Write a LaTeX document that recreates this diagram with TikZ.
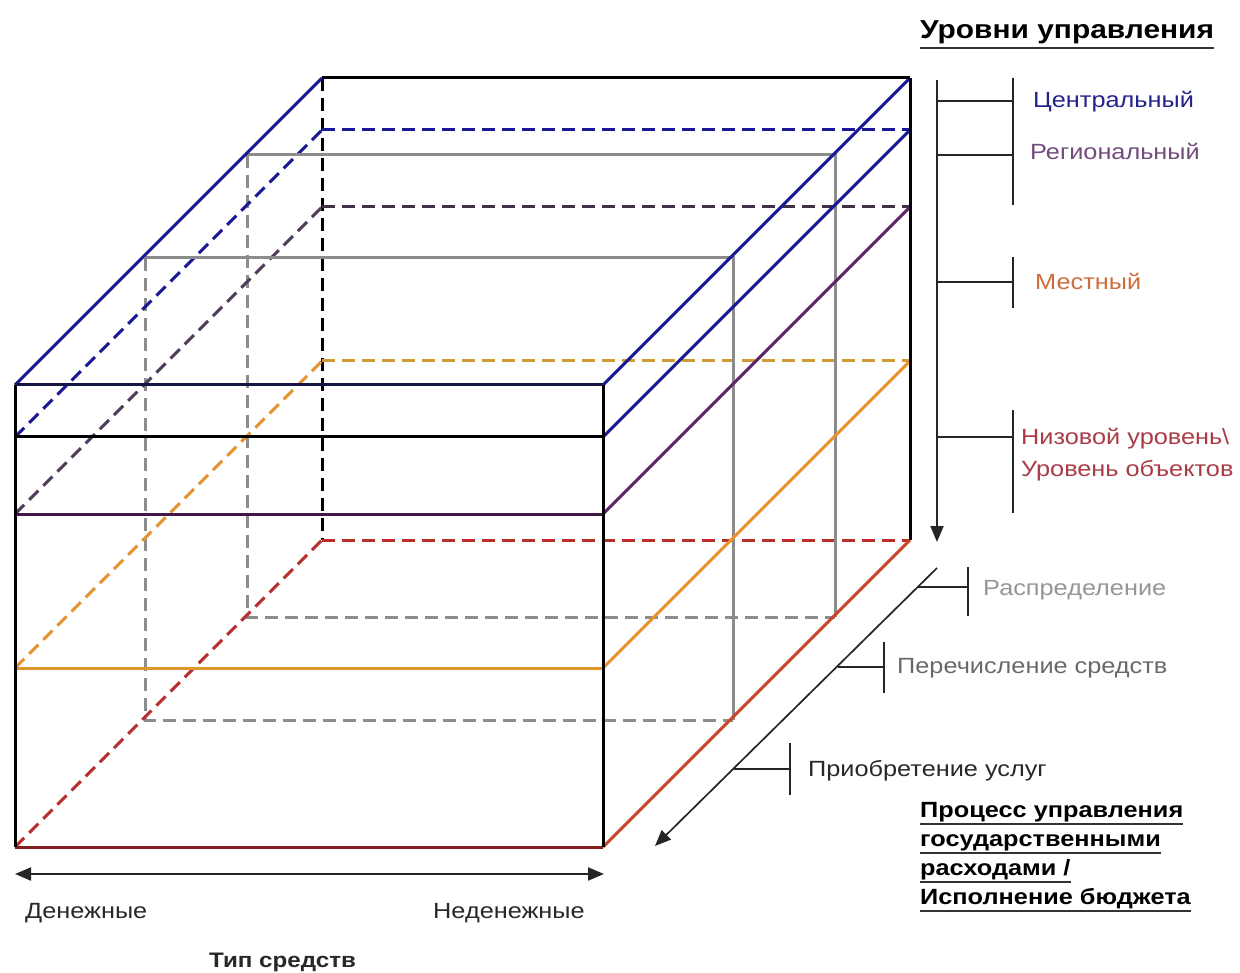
\documentclass[tikz,border=0pt]{standalone}
\usepackage{fontspec}
\setmainfont{Liberation Sans}[FakeStretch=1.15]
\usetikzlibrary{arrows.meta}
\definecolor{cnavy}{RGB}{20,20,70}
\definecolor{cblue}{RGB}{25,25,150}
\definecolor{cpurple}{RGB}{95,35,105}
\definecolor{cpurpled}{RGB}{80,60,90}
\definecolor{corange}{RGB}{235,145,45}
\definecolor{colive}{RGB}{190,160,60}
\definecolor{cred}{RGB}{185,45,45}
\definecolor{credd}{RGB}{135,30,30}
\definecolor{credo}{RGB}{200,70,40}
\definecolor{cgray}{RGB}{140,140,140}
\definecolor{tblue}{RGB}{35,35,140}
\definecolor{tpurple}{RGB}{115,75,125}
\definecolor{torange}{RGB}{205,110,60}
\definecolor{tred}{RGB}{170,60,70}
\definecolor{tgray}{RGB}{150,150,150}
\definecolor{tgrayd}{RGB}{105,105,105}
\definecolor{tdark}{RGB}{40,40,40}
\begin{document}
\begin{tikzpicture}[x=1pt,y=-1pt,
  ln/.style={line width=3pt},
  dsh/.style={line width=3pt,dash pattern=on 13pt off 7pt},
  gln/.style={line width=3pt,cgray},
  gdsh/.style={line width=3pt,cgray,dash pattern=on 13pt off 7pt},
  ann/.style={line width=2pt,black!85},
  lbl/.style={inner sep=0pt,anchor=base west,font=\fontsize{22}{26}\selectfont},
  blbl/.style={inner sep=0pt,anchor=base west,font=\fontsize{22}{26}\selectfont\bfseries},
  uline/.style={line width=2.2pt,black!80}]
\useasboundingbox (0,0) rectangle (1240,973);
\fill[white] (0,0) rectangle (1240,973);

% layer corners
\foreach \n/\y in {a/385,b/437,c/514,d/668,e/847}{
  \coordinate (fL\n) at (15,\y);
  \coordinate (fR\n) at (603,\y);
  \coordinate (bL\n) at (322,\y-307);
  \coordinate (bR\n) at (910,\y-307);
}
% gray slices
\coordinate (sATL) at (145,258); \coordinate (sATR) at (733,258);
\coordinate (sABR) at (733,720); \coordinate (sABL) at (145,720);
\coordinate (sBTL) at (247,155); \coordinate (sBTR) at (835,155);
\coordinate (sBBR) at (835,617); \coordinate (sBBL) at (247,617);

% hidden (dashed) lines
\draw[gdsh] (sATL) -- (sABL) -- (sABR);
\draw[gdsh] (sBTL) -- (sBBL) -- (sBBR);
\draw[dsh,black] (bLa) -- (bLe);
\draw[dsh,cblue] (bLb) -- (bRb);
\draw[dsh,cblue] (fLb) -- (bLb);
\draw[dsh,cpurpled!80!black] (bLc) -- (bRc);
\draw[dsh,cpurpled] (fLc) -- (bLc);
\draw[dsh,colive!60!corange] (bLd) -- (bRd);
\draw[dsh,corange!85!colive] (fLd) -- (bLd);
\draw[dsh,cred] (bLe) -- (bRe);
\draw[dsh,cred] (fLe) -- (bLe);

% gray solid
\draw[gln] (sATL) -- (sATR) -- (sABR);
\draw[gln] (sBTL) -- (sBTR) -- (sBBR);

% solid coloured lines
\draw[ln,cblue] (fLa) -- (bLa);
\draw[ln,cblue] (fRa) -- (bRa);
\draw[ln,black] (bLa) -- (bRa);
\draw[ln,cblue] (fRb) -- (bRb);
\draw[ln,cpurple] (fRc) -- (bRc);
\draw[ln,corange] (fRd) -- (bRd);
\draw[ln,credo] (fRe) -- (bRe);
\draw[ln,cnavy] (fLa) -- (fRa);
\draw[ln,black] (fLb) -- (fRb);
\draw[ln,cpurple!70!black] (fLc) -- (fRc);
\draw[ln,draw=corange!70!colive] (fLd) -- (fRd);
\draw[ln,credd] (fLe) -- (fRe);
\draw[ln,black] (fLa) -- (fLe);
\draw[ln,black] (fRa) -- (fRe);
\draw[ln,black] (bRa) -- (bRe);

% levels axis
\coordinate (vtop) at (937,80); \coordinate (vbot) at (937,542);
\draw[ann,-{Triangle[length=16pt,width=13pt]}] (vtop) -- (vbot);
\coordinate (t1a) at (937,101); \coordinate (t1b) at (1013,101);
\coordinate (t2a) at (937,155); \coordinate (t2b) at (1013,155);
\coordinate (b1a) at (1013,78); \coordinate (b1b) at (1013,205);
\coordinate (t3a) at (937,282); \coordinate (t3b) at (1013,282);
\coordinate (b2a) at (1013,257); \coordinate (b2b) at (1013,308);
\coordinate (t4a) at (937,437); \coordinate (t4b) at (1013,437);
\coordinate (b3a) at (1013,410); \coordinate (b3b) at (1013,513);
\draw[ann] (t1a) -- (t1b); \draw[ann] (t2a) -- (t2b); \draw[ann] (b1a) -- (b1b);
\draw[ann] (t3a) -- (t3b); \draw[ann] (b2a) -- (b2b);
\draw[ann] (t4a) -- (t4b); \draw[ann] (b3a) -- (b3b);

% process axis
\coordinate (dtop) at (937,568); \coordinate (dbot) at (655,846);
\draw[ann,line width=1.7pt,-{Triangle[length=16pt,width=13pt]}] (dtop) -- (dbot);
\coordinate (p1a) at (918,587); \coordinate (p1b) at (968,587);
\coordinate (q1a) at (968,567); \coordinate (q1b) at (968,616);
\coordinate (p2a) at (838,667); \coordinate (p2b) at (884,667);
\coordinate (q2a) at (884,642); \coordinate (q2b) at (884,693);
\coordinate (p3a) at (734,769); \coordinate (p3b) at (790,769);
\coordinate (q3a) at (790,743); \coordinate (q3b) at (790,795);
\draw[ann] (p1a) -- (p1b); \draw[ann] (q1a) -- (q1b);
\draw[ann] (p2a) -- (p2b); \draw[ann] (q2a) -- (q2b);
\draw[ann] (p3a) -- (p3b); \draw[ann] (q3a) -- (q3b);

% type axis
\coordinate (hl) at (15,874); \coordinate (hr) at (604,874);
\draw[ann,{Triangle[length=16pt,width=13pt]}-{Triangle[length=16pt,width=13pt]}] (hl) -- (hr);

% labels
\node[blbl,font=\fontsize{26}{30}\selectfont\bfseries] (title) at (920,39) {Уровни управления};
\draw[uline] ([yshift=-9pt]title.base west) -- ([yshift=-9pt]title.base east);
\node[lbl,text=tblue] (l1) at (1033,108) {Центральный};
\node[lbl,text=tpurple] (l2) at (1030,160) {Региональный};
\node[lbl,text=torange] (l3) at (1035,290) {Местный};
\node[lbl,text=tred] (l4) at (1021,445) {Низовой уровень\textbackslash};
\node[lbl,text=tred] (l5) at (1021,476) {Уровень объектов};
\node[lbl,text=tgray] (m1) at (983,595) {Распределение};
\node[lbl,text=tgrayd] (m2) at (897,673) {Перечисление средств};
\node[lbl,text=tdark] (m3) at (808,776) {Приобретение услуг};
\node[blbl] (r1) at (920,817) {Процесс управления};
\node[blbl] (r2) at (920,846) {государственными};
\node[blbl] (r3) at (920,875) {расходами /};
\node[blbl] (r4) at (920,904) {Исполнение бюджета};
\foreach \r in {r1,r2,r3,r4}{
  \draw[uline] ([yshift=-7pt]\r.base west) -- ([yshift=-7pt]\r.base east);
}
\node[lbl,text=tdark] (k1) at (25,918) {Денежные};
\node[lbl,text=tdark] (k2) at (433,918) {Неденежные};
\node[blbl,text=tdark,font=\fontsize{21}{25}\selectfont\bfseries] (k3) at (209,967) {Тип средств};
\end{tikzpicture}
\end{document}
